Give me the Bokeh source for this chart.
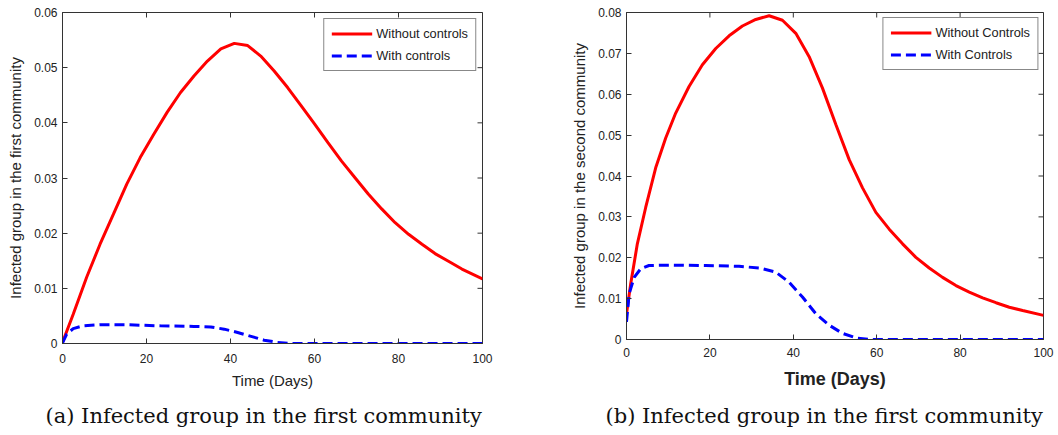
import math
from bokeh.plotting import figure
from bokeh.layouts import row, column
from bokeh.models import LinearAxis, FixedTicker, Legend, LegendItem, Range1d, Label
from bokeh.embed import file_html
from bokeh.resources import INLINE

# ---- data ----
x_ticks = [0, 20, 40, 60, 80, 100]
y_ticks_a = [0, 0.01, 0.02, 0.03, 0.04, 0.05, 0.06]
y_ticks_b = [0, 0.01, 0.02, 0.03, 0.04, 0.05, 0.06, 0.07, 0.08]

a_red_x = [0, 2.55, 5.75, 8.94, 12.1, 15.3, 18.5, 21.7, 24.9, 28.1, 31.3, 34.5, 37.7, 40.9,
           44.1, 47.2, 50.4, 53.6, 56.8, 60.0, 63.2, 66.4, 69.6, 72.8, 76.0, 79.2, 82.4,
           85.6, 88.7, 91.9, 95.1, 100]
a_red_y = [0.0002, 0.0053, 0.0120, 0.0180, 0.0234, 0.0289, 0.0337, 0.0379, 0.0419, 0.0455,
           0.0485, 0.0512, 0.0534, 0.0544, 0.0540, 0.0521, 0.0494, 0.0464, 0.0431, 0.0398,
           0.0364, 0.0331, 0.0301, 0.0271, 0.0244, 0.0219, 0.0198, 0.0180, 0.0163, 0.0149,
           0.0135, 0.0117]
a_blue_x = [0, 1.0, 2.55, 4.9, 8.9, 15.3, 23.3, 31.3, 35.3, 38.5, 41.7, 44.9, 48.0, 51.2, 54.4, 100]
a_blue_y = [0.0001, 0.0017, 0.0027, 0.0032, 0.0034, 0.0034, 0.0032, 0.0031, 0.0030, 0.0026,
            0.0020, 0.0013, 0.0006, 0.0002, 0.0, 0.0]

b_red_x = [0, 1.0, 2.6, 4.6, 7.0, 9.4, 11.8, 15.0, 18.2, 21.4, 24.6, 27.8, 31.0, 34.2, 37.4,
           40.6, 43.8, 47.0, 50.2, 53.4, 56.6, 59.8, 63.0, 66.2, 69.4, 72.6, 75.8, 79.0,
           82.2, 85.4, 88.6, 91.8, 95.0, 100]
b_red_y = [0.0062, 0.0136, 0.0234, 0.0323, 0.0420, 0.0493, 0.0554, 0.0619, 0.0672, 0.0712,
           0.0743, 0.0767, 0.0783, 0.0792, 0.0781, 0.0749, 0.0692, 0.0615, 0.0526, 0.0440,
           0.0371, 0.0311, 0.0270, 0.0234, 0.0201, 0.0175, 0.0152, 0.0132, 0.0116, 0.0102,
           0.0090, 0.0079, 0.0071, 0.0059]
b_blue_x = [0, 0.64, 1.84, 3.4, 5.4, 11.0, 19.0, 27.0, 31.8, 35.8, 39.0, 42.2, 45.4, 48.6,
            51.8, 55.0, 58.2, 100]
b_blue_y = [0.0043, 0.0112, 0.0152, 0.0173, 0.0181, 0.0182, 0.0181, 0.0179, 0.0175, 0.0165,
            0.0140, 0.0104, 0.0063, 0.0035, 0.0015, 0.0004, 0.0, 0.0]

captions = ["(a) Infected group in the first community",
            "(b) Infected group in the first community"]

TXT = "#222222"
FONT = "Liberation Sans"
FRAME = "#333333"
PLOT_H = 395
CAP_H = 435 - PLOT_H


def make_panel(width, ymax, yticks, rx, ry, bx, by, labels, ylabel, xlabel_style,
               borders, legend_margin):
    bl, br, bt, bb = borders
    p = figure(width=width, height=PLOT_H, output_backend="svg", toolbar_location=None,
               x_range=Range1d(0, 100), y_range=Range1d(0, ymax),
               x_axis_type=None, y_axis_type=None,
               min_border_left=bl, min_border_right=br, min_border_top=bt, min_border_bottom=bb)
    p.background_fill_color = "white"
    p.border_fill_color = "white"
    p.outline_line_color = FRAME
    p.outline_line_width = 1
    p.xgrid.visible = False
    p.ygrid.visible = False

    ylab_over = {0: "0"}
    for t in yticks[1:]:
        ylab_over[t] = "%g" % t

    def style(ax):
        ax.major_tick_in = 5
        ax.major_tick_out = 0
        ax.minor_tick_line_color = None
        ax.axis_line_color = FRAME
        ax.major_tick_line_color = FRAME
        ax.major_label_text_font = FONT
        ax.major_label_text_color = TXT
        ax.major_label_text_font_size = "12px"

    xb = LinearAxis(ticker=FixedTicker(ticks=x_ticks), axis_label="Time (Days)")
    style(xb)
    xb.major_label_standoff = xlabel_style[3]
    xb.axis_label_text_font = FONT
    xb.axis_label_text_color = TXT
    xb.axis_label_text_font_size = xlabel_style[0]
    xb.axis_label_text_font_style = xlabel_style[1]
    xb.axis_label_standoff = xlabel_style[2]
    p.add_layout(xb, "below")

    yl = LinearAxis(ticker=FixedTicker(ticks=yticks), axis_label=ylabel,
                    major_label_overrides=ylab_over)
    style(yl)
    yl.major_label_standoff = 5
    yl.axis_label_text_font = FONT
    yl.axis_label_text_color = TXT
    yl.axis_label_text_font_size = "15px"
    yl.axis_label_text_font_style = "normal"
    yl.axis_label_standoff = 7
    p.add_layout(yl, "left")

    # mirrored inward ticks on the top and right frame edges (clipped to the frame)
    p.scatter(x_ticks, [ymax] * len(x_ticks), marker="dash", size=10, angle=math.pi / 2,
              line_color=FRAME, line_width=1)
    p.scatter([100] * len(yticks), yticks, marker="dash", size=10,
              line_color=FRAME, line_width=1)

    r1 = p.line(rx, ry, line_color="#ff0000", line_width=3)
    r2 = p.line(bx, by, line_color="#0000ff", line_width=3, line_dash="10 5")

    leg = Legend(items=[LegendItem(label=labels[0], renderers=[r1]),
                        LegendItem(label=labels[1], renderers=[r2])],
                 location="top_right")
    leg.margin = legend_margin
    leg.padding = 7
    leg.spacing = 7
    leg.glyph_width = 41
    leg.glyph_height = 15
    leg.label_height = 15
    leg.label_standoff = 4
    leg.label_text_font = FONT
    leg.label_text_font_size = "12.8px"
    leg.label_text_color = TXT
    leg.border_line_color = "#111111"
    leg.border_line_width = 1
    leg.background_fill_color = "white"
    leg.background_fill_alpha = 1
    p.add_layout(leg, "center")
    return p


def make_caption(text, width, pad_left):
    c = figure(width=width, height=CAP_H, output_backend="svg", toolbar_location=None,
               x_range=Range1d(0, 1), y_range=Range1d(0, 1),
               x_axis_type=None, y_axis_type=None, min_border=0)
    c.outline_line_color = None
    c.xgrid.visible = False
    c.ygrid.visible = False
    c.add_layout(Label(x=pad_left, y=CAP_H / 2, x_units="screen", y_units="screen",
                       text=text, text_font="DejaVu Serif", text_font_size="21px",
                       text_color="#111111", text_baseline="middle", text_align="left"))
    return c


p1 = make_panel(530, 0.06, y_ticks_a, a_red_x, a_red_y, a_blue_x, a_blue_y,
                ["Without controls", "With controls"],
                "Infected group in the first community",
                ("15px", "normal", 6, 10), (62, 48, 12, PLOT_H - 343), 6)
p2 = make_panel(528, 0.08, y_ticks_b, b_red_x, b_red_y, b_blue_x, b_blue_y,
                ["Without Controls", "With Controls"],
                "Infected group in the second community",
                ("18px", "bold", 9, 8), (96, 15, 12, PLOT_H - 339), 5)

c1 = make_caption(captions[0], 530, 45)
c2 = make_caption(captions[1], 528, 605 - 530)

layout = row(column(p1, row(c1, spacing=0), spacing=0),
             column(p2, row(c2, spacing=0), spacing=0), spacing=0)
open("out.html", "w").write(file_html(layout, INLINE))
